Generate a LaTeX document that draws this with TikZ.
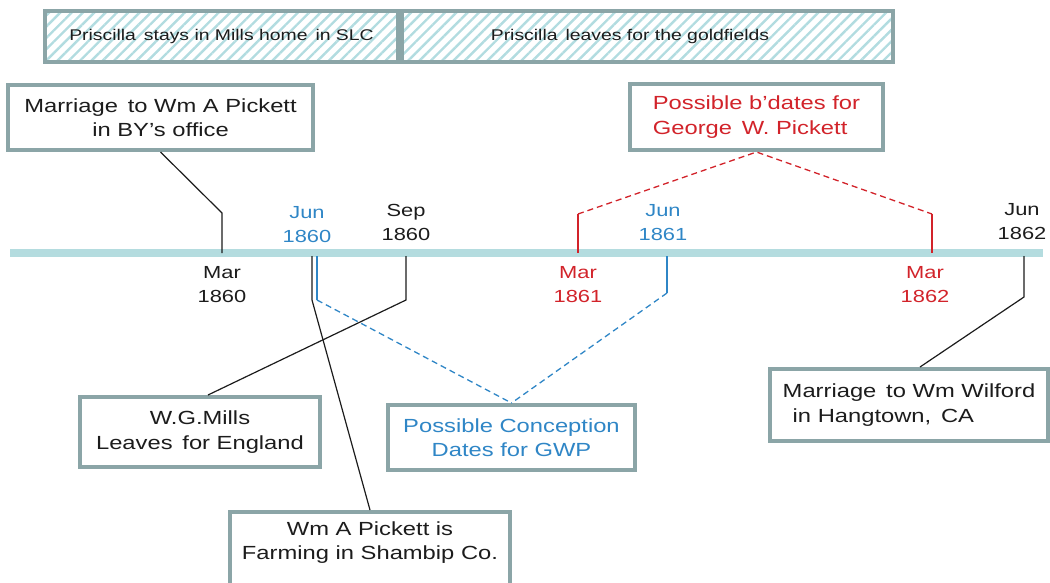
\documentclass[tikz,border=0pt]{standalone}
\usepackage{fontspec}
\setmainfont{Liberation Sans}[FakeStretch=1.25]
\usetikzlibrary{patterns.meta}
\definecolor{boxline}{HTML}{8BA5A7}
\definecolor{axiscol}{HTML}{B4DCDF}
\definecolor{hatchcol}{HTML}{B2DCE0}
\definecolor{bluecol}{HTML}{2F86C6}
\definecolor{redcol}{HTML}{D2232A}
\definecolor{txtcol}{HTML}{1C1C1C}
\begin{document}
\begin{tikzpicture}[x=1pt,y=-1pt,
  box/.style={draw=boxline,line width=4pt,fill=white,inner sep=0pt,
    font=\fontsize{19}{24.5}\selectfont,text=txtcol,align=center},
  bar/.style={draw=boxline,line width=4pt,
    pattern={Lines[angle=45,distance=8pt,line width=2.4pt]},pattern color=hatchcol,
    minimum height=51pt,inner sep=0pt,font=\fontsize{15.5}{18}\selectfont,text=txtcol},
  lbl/.style={font=\fontsize{17.5}{24}\selectfont,align=center,inner sep=0pt},
  conn/.style={line width=1.2pt,draw=txtcol},
  blueline/.style={line width=1.3pt,draw=bluecol},
  bluedash/.style={line width=1.3pt,draw=bluecol,dash pattern=on 6pt off 4pt},
  redline/.style={line width=1.3pt,draw=redcol},
  reddash/.style={line width=1.3pt,draw=redcol,dash pattern=on 6pt off 4pt}]
\useasboundingbox (0,0) rectangle (1050,582);

% top bars
\node[bar,minimum width=353pt] (bar1) at (221.5,36.5) {Priscilla\, stays in Mills home\, in SLC};
\node[bar,minimum width=491pt] (bar2) at (647.5,36.5) {};
\node[font=\fontsize{15.5}{18}\selectfont,text=txtcol,inner sep=0pt] (bar2t) at (630,36.5) {Priscilla\, leaves for the goldfields};

% axis
\coordinate (axL) at (10,253);
\coordinate (axR) at (1043,253);
\draw[axiscol,line width=8pt] (axL) -- (axR);

% boxes
\node[box,minimum width=305pt,minimum height=65pt] (mw) at (160.5,117.5) {Marriage\, to Wm A Pickett\\in BY's office};
\node[box,minimum width=253pt,minimum height=66pt,text=redcol,align=left] (bd) at (756.5,117) {Possible b'dates for\\George\, W. Pickett};
\node[box,minimum width=240pt,minimum height=70pt] (wg) at (200,432) {W.G.Mills\\Leaves\, for England};
\node[box,minimum width=247pt,minimum height=65pt,text=bluecol] (cd) at (511.5,437.5) {Possible Conception\\Dates for GWP};
\node[box,minimum width=280pt,minimum height=80pt] (pk) at (370,552) {};
\node[lbl,font=\fontsize{19}{24.5}\selectfont,text=txtcol] (pkt) at (370,542.5) {Wm A Pickett is\\Farming in Shambip Co.};
\node[box,minimum width=278pt,minimum height=72pt,align=left] (wf) at (909,405) {Marriage\, to Wm Wilford\\\hspace{10pt}in Hangtown,\, CA};

% date labels
\node[lbl,text=txtcol] (lm60) at (222,285) {Mar\\1860};
\node[lbl,text=bluecol] (lj60) at (307,225) {Jun\\1860};
\node[lbl,text=txtcol] (ls60) at (406,222) {Sep\\1860};
\node[lbl,text=redcol] (lm61) at (578,285) {Mar\\1861};
\node[lbl,text=bluecol] (lj61) at (663,223) {Jun\\1861};
\node[lbl,text=redcol] (lm62) at (925,285) {Mar\\1862};
\node[lbl,text=txtcol] (lj62) at (1022,222) {Jun\\1862};

% coordinates on the axis
\coordinate (m60a) at (222,253);  \coordinate (m60k) at (222,213);
\coordinate (j60a) at (312,256);  \coordinate (j60k) at (312,300);
\coordinate (j60b) at (317,256);  \coordinate (j60c) at (317,300);
\coordinate (s60a) at (406,256);  \coordinate (s60k) at (406,300);
\coordinate (m61a) at (578,253);  \coordinate (m61k) at (578,214);
\coordinate (j61a) at (667,256);  \coordinate (j61k) at (667,293);
\coordinate (m62a) at (932,253);  \coordinate (m62k) at (932,214);
\coordinate (j62a) at (1024,256); \coordinate (j62k) at (1024,297);

% connectors
\draw[conn] (mw.south) -- (m60k) -- (m60a);
\draw[conn] (j60a) -- (j60k) -- (pk.north);
\draw[blueline] (j60b) -- (j60c);
\draw[bluedash] (j60c) -- (cd.north);
\draw[conn] (s60a) -- (s60k) -- ([xshift=8pt]wg.north);
\draw[redline] (m61a) -- (m61k);
\draw[reddash] (m61k) -- (bd.south) -- (m62k);
\draw[redline] (m62k) -- (m62a);
\draw[blueline] (j61a) -- (j61k);
\draw[bluedash] (j61k) -- (cd.north);
\draw[conn] (j62a) -- (j62k) -- ([xshift=11pt]wf.north);
\end{tikzpicture}
\end{document}
